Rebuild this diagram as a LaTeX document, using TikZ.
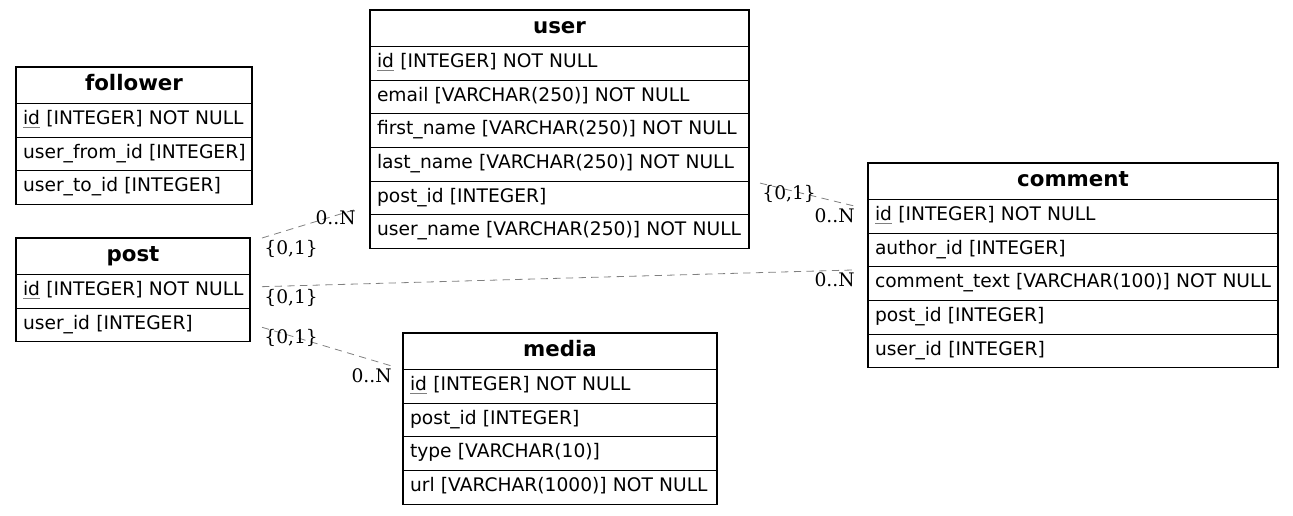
\documentclass[tikz,border=0pt]{standalone}
\usepackage{fontspec}
\setmainfont{DejaVu Sans}
\newfontfamily\cardfont{DejaVu Serif}
\usetikzlibrary{positioning}

\newcommand{\pk}[1]{{\color{gray}\underline{\color{black}#1}}}

\begin{document}
\begin{tikzpicture}
[x=0.75pt, y=-0.75pt,
 cell/.style={draw, line width=0.8pt, inner xsep=5.25pt, inner ysep=0pt, outer sep=0pt,
   execute at begin node={\hbox\bgroup}, execute at end node={\egroup}},
 head/.style={cell, anchor=north west, minimum height=27.5pt, align=center,
   text width=#1, text height=11pt, text depth=3.8pt,
   font=\fontsize{16pt}{19pt}\selectfont\bfseries},
 row/.style={cell, minimum height=25.2pt, align=left, text width=#1,
   text height=10pt, text depth=3.6pt, font=\fontsize{14pt}{17pt}\selectfont},
 rel/.style={draw=gray, dash pattern=on 5.5pt off 4pt, line width=0.6pt},
 card/.style={inner sep=1.5pt, font=\cardfont\fontsize{14pt}{17pt}\selectfont}]

\useasboundingbox (0,0) rectangle (1293,515);

% follower
\node[head=166.5pt] (follower-h) at (16,67) {follower};
\node[row=166.5pt, below=0pt of follower-h] (follower-1) {\pk{id} [INTEGER] NOT NULL};
\node[row=166.5pt, below=0pt of follower-1] (follower-2) {user\_from\_id [INTEGER]};
\node[row=166.5pt, below=0pt of follower-2] (follower-3) {user\_to\_id [INTEGER]};

% post
\node[head=165pt] (post-h) at (16,238) {post};
\node[row=165pt, below=0pt of post-h] (post-1) {\pk{id} [INTEGER] NOT NULL};
\node[row=165pt, below=0pt of post-1] (post-2) {user\_id [INTEGER]};

% user
\node[head=273.75pt] (user-h) at (370,10) {user};
\node[row=273.75pt, below=0pt of user-h] (user-1) {\pk{id} [INTEGER] NOT NULL};
\node[row=273.75pt, below=0pt of user-1] (user-2) {email [VARCHAR(250)] NOT NULL};
\node[row=273.75pt, below=0pt of user-2] (user-3) {first\_name [VARCHAR(250)] NOT NULL};
\node[row=273.75pt, below=0pt of user-3] (user-4) {last\_name [VARCHAR(250)] NOT NULL};
\node[row=273.75pt, below=0pt of user-4] (user-5) {post\_id [INTEGER]};
\node[row=273.75pt, below=0pt of user-5] (user-6) {user\_name [VARCHAR(250)] NOT NULL};

% media
\node[head=225pt] (media-h) at (403,333) {media};
\node[row=225pt, below=0pt of media-h] (media-1) {\pk{id} [INTEGER] NOT NULL};
\node[row=225pt, below=0pt of media-1] (media-2) {post\_id [INTEGER]};
\node[row=225pt, below=0pt of media-2] (media-3) {type [VARCHAR(10)]};
\node[row=225pt, below=0pt of media-3] (media-4) {url [VARCHAR(1000)] NOT NULL};

% comment
\node[head=297pt] (comment-h) at (868,163) {comment};
\node[row=297pt, below=0pt of comment-h] (comment-1) {\pk{id} [INTEGER] NOT NULL};
\node[row=297pt, below=0pt of comment-1] (comment-2) {author\_id [INTEGER]};
\node[row=297pt, below=0pt of comment-2] (comment-3) {comment\_text [VARCHAR(100)] NOT NULL};
\node[row=297pt, below=0pt of comment-3] (comment-4) {post\_id [INTEGER]};
\node[row=297pt, below=0pt of comment-4] (comment-5) {user\_id [INTEGER]};

% relations
\draw[rel] ([xshift=9pt]post-h.north east) node[card, anchor=north west] {\{0,1\}}
  -- ([xshift=-9pt, yshift=4.5pt]user-5.south west) node[card, anchor=north east] {0..N};
\draw[rel] ([xshift=9pt, yshift=-9pt]post-1.north east) node[card, anchor=north west] {\{0,1\}}
  -- ([xshift=-8.25pt, yshift=-2.25pt]comment-3.north west) node[card, anchor=north east] {0..N};
\draw[rel] ([xshift=9pt, yshift=-14.25pt]post-2.north east) node[card, anchor=north west] {\{0,1\}}
  -- ([xshift=-6.75pt, yshift=2.25pt]media-h.south west) node[card, anchor=north east] {0..N};
\draw[rel] ([xshift=8.25pt, yshift=-1.5pt]user-5.north east) node[card, anchor=north west] {\{0,1\}}
  -- ([xshift=-8.25pt, yshift=-5.25pt]comment-1.north west) node[card, anchor=north east] {0..N};

\end{tikzpicture}
\end{document}
